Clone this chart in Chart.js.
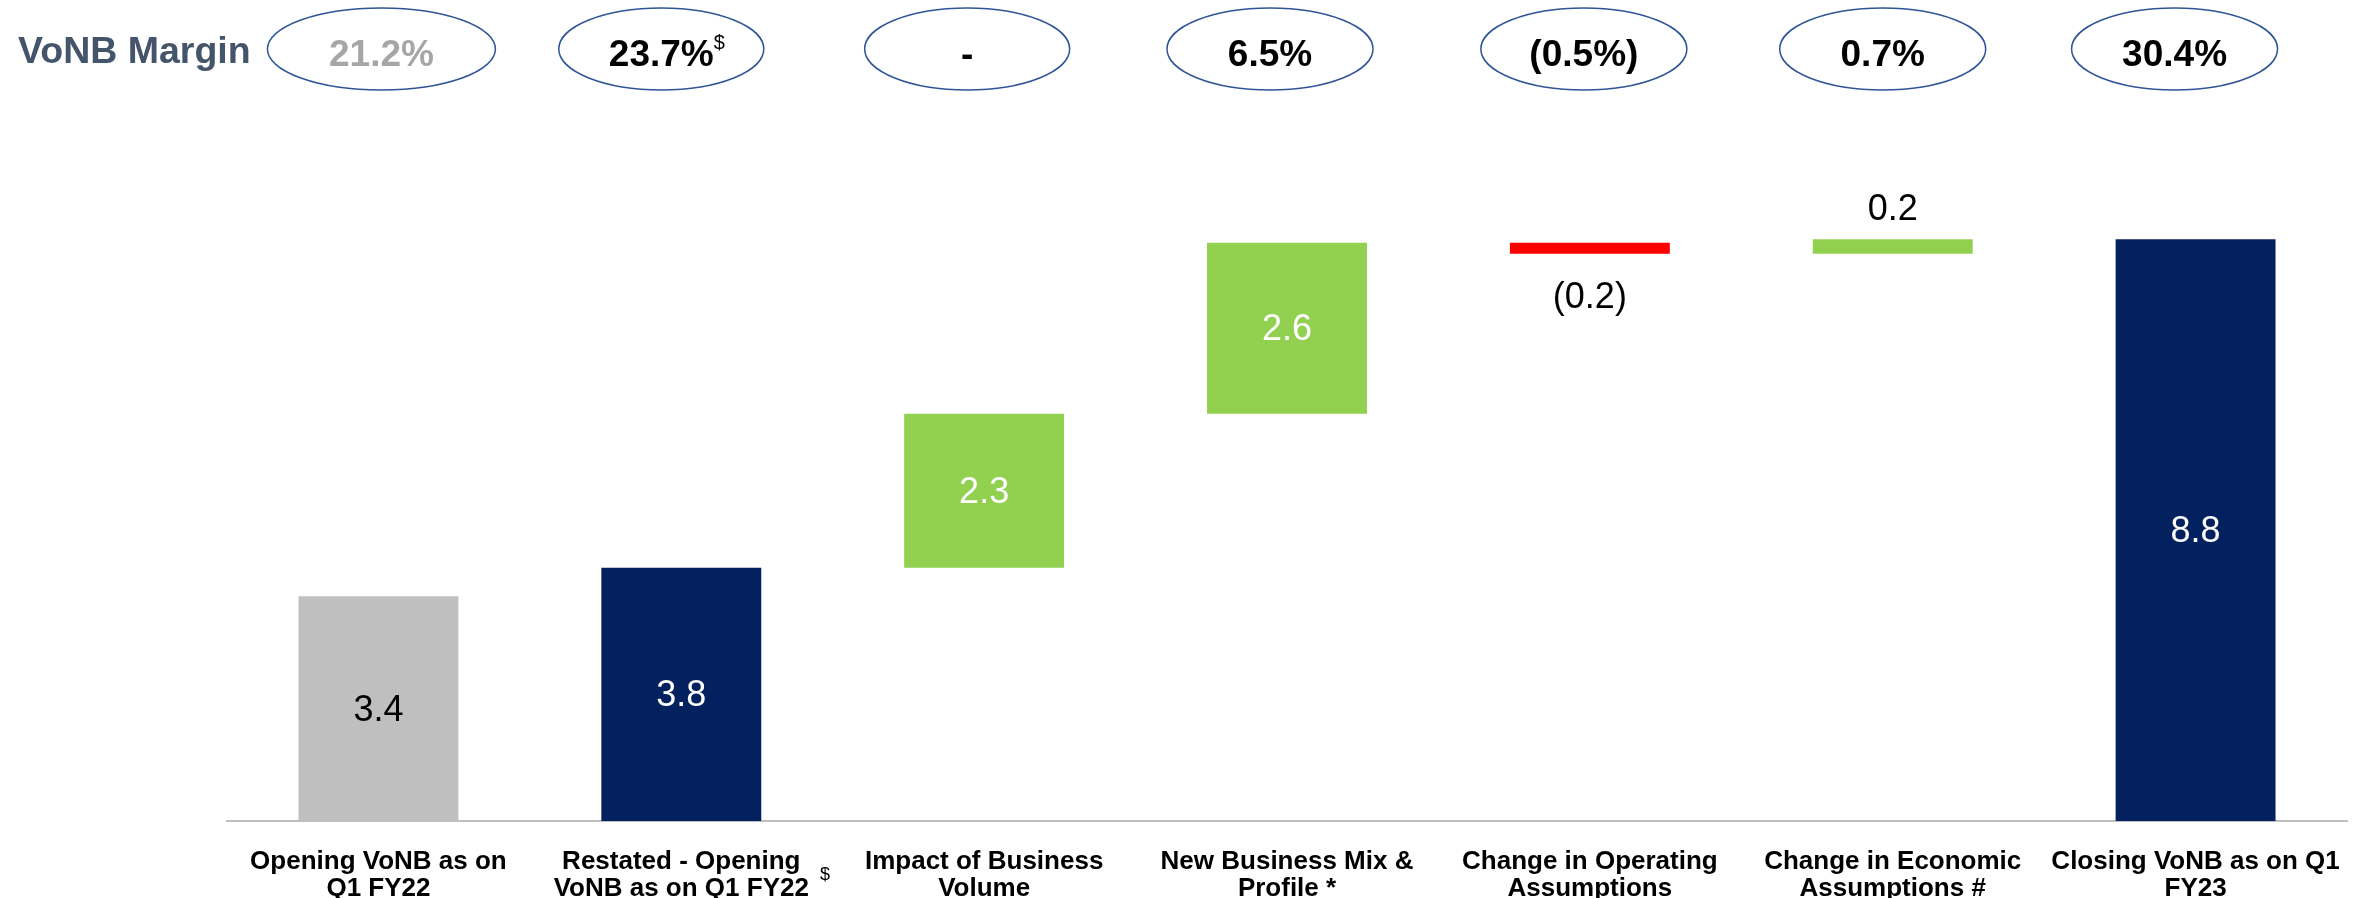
<!DOCTYPE html>
<html>
<head>
<meta charset="utf-8">
<script src="https://cdn.jsdelivr.net/npm/chart.js@4/dist/chart.umd.min.js"></script>
<style>
  html, body { margin: 0; padding: 0; background: #fff; }
  canvas { display: block; }
</style>
</head>
<body>
<canvas id="vonb_walk" width="2369" height="898"></canvas>
<script>
// VoNB walk: Q1 FY22 -> Q1 FY23
const categories = [
    ['Opening VoNB as on', 'Q1 FY22'],
    ['Restated - Opening', 'VoNB as on Q1 FY22'],
    ['Impact of Business', 'Volume'],
    ['New Business Mix &', 'Profile *'],
    ['Change in Operating', 'Assumptions'],
    ['Change in Economic', 'Assumptions #'],
    ['Closing VoNB as on Q1', 'FY23']
];
const barStart = [0, 0, 3.83, 6.16, 8.75, 8.58, 0];
const barEnd = [3.4, 3.83, 6.16, 8.75, 8.58, 8.8, 8.8];
const valueLabels = ['3.4', '3.8', '2.3', '2.6', '(0.2)', '0.2', '8.8'];
const marginLabels = ['21.2%', '23.7%', '-', '6.5%', '(0.5%)', '0.7%', '30.4%'];

const barColors = ['#BFBFBF', '#03215E', '#92D050', '#92D050', '#FF0000', '#92D050', '#03215E'];
const labelColors = ['#000', '#fff', '#fff', '#fff', '#000', '#000', '#fff'];
// where the value label sits: inside the bar, under it or above it
const labelPlace = ['in', 'in', 'in', 'in', 'below', 'above', 'in'];

const FONT = '"Liberation Sans", Arial, sans-serif';

// oval row on top + $ marks + value labels
const decorations = {
    id: 'decorations',
    afterDatasetsDraw(chart) {
        const ctx = chart.ctx;
        const meta = chart.getDatasetMeta(0);
        ctx.save();
        ctx.textAlign = 'center';
        ctx.textBaseline = 'middle';
        ctx.font = '36px ' + FONT;
        meta.data.forEach((bar, i) => {
            const top = Math.min(bar.y, bar.base);
            const bottom = Math.max(bar.y, bar.base);
            let y = (top + bottom) / 2 + 2;
            if (labelPlace[i] === 'below') y = bottom + 44;
            if (labelPlace[i] === 'above') y = top - 29;
            ctx.fillStyle = labelColors[i];
            ctx.fillText(valueLabels[i], bar.x, y);
        });
        ctx.restore();
    },
    afterDraw(chart) {
        const ctx = chart.ctx;
        const x = chart.scales.x;
        const ovalShift = [3, -20, -17, -17, -6, -10, -21];
        const ovalW = [228, 205, 205, 206, 206, 206, 206];
        ctx.save();

        ctx.font = 'bold 37.5px ' + FONT;
        ctx.fillStyle = '#44546A';
        ctx.textAlign = 'left';
        ctx.textBaseline = 'alphabetic';
        ctx.fillText('VoNB Margin', 18, 63);

        marginLabels.forEach((txt, i) => {
            const cx = x.getPixelForValue(i) + ovalShift[i];
            ctx.beginPath();
            ctx.ellipse(cx, 49, ovalW[i] / 2, 41, 0, 0, Math.PI * 2);
            ctx.strokeStyle = '#2F5597';
            ctx.lineWidth = 1.5;
            ctx.stroke();
            ctx.font = 'bold 37px ' + FONT;
            ctx.fillStyle = i === 0 ? '#A6A6A6' : '#000';
            ctx.textAlign = 'center';
            ctx.fillText(txt, cx, 66);
            if (i === 1) {
                const w = ctx.measureText(txt).width;
                ctx.font = '20px ' + FONT;
                ctx.textAlign = 'left';
                ctx.fillText('$', cx + w / 2, 49);
            }
        });

        // $ after the restated category label
        ctx.font = 'bold 26px ' + FONT;
        const w2 = ctx.measureText(categories[1][1]).width;
        ctx.font = '18px ' + FONT;
        ctx.fillStyle = '#000';
        ctx.textAlign = 'left';
        ctx.fillText('$', x.getPixelForValue(1) + w2 / 2 + 11, 880);
        ctx.restore();
    }
};

new Chart(document.getElementById('vonb_walk').getContext('2d'), {
    type: 'bar',
    data: {
        labels: categories,
        datasets: [{
            data: barStart.map((s, i) => [s, barEnd[i]]),
            backgroundColor: barColors,
            borderWidth: 0,
            barPercentage: 0.528,
            categoryPercentage: 1
        }]
    },
    options: {
        responsive: false,
        animation: false,
        layout: { padding: { top: 160, left: 227, right: 22, bottom: 0 } },
        plugins: { legend: { display: false }, tooltip: { enabled: false } },
        scales: {
            x: {
                grid: { display: false, drawTicks: false },
                border: { display: true, color: '#BFBFBF', width: 2 },
                ticks: {
                    color: '#000',
                    padding: 27,
                    maxRotation: 0,
                    autoSkip: false,
                    font: { family: FONT, size: 26, weight: 'bold', lineHeight: '27px' }
                },
                afterFit(scale) { scale.height = 77; }
            },
            y: {
                display: false,
                min: 0,
                max: 10
            }
        }
    },
    plugins: [decorations]
});
</script>
</body>
</html>
